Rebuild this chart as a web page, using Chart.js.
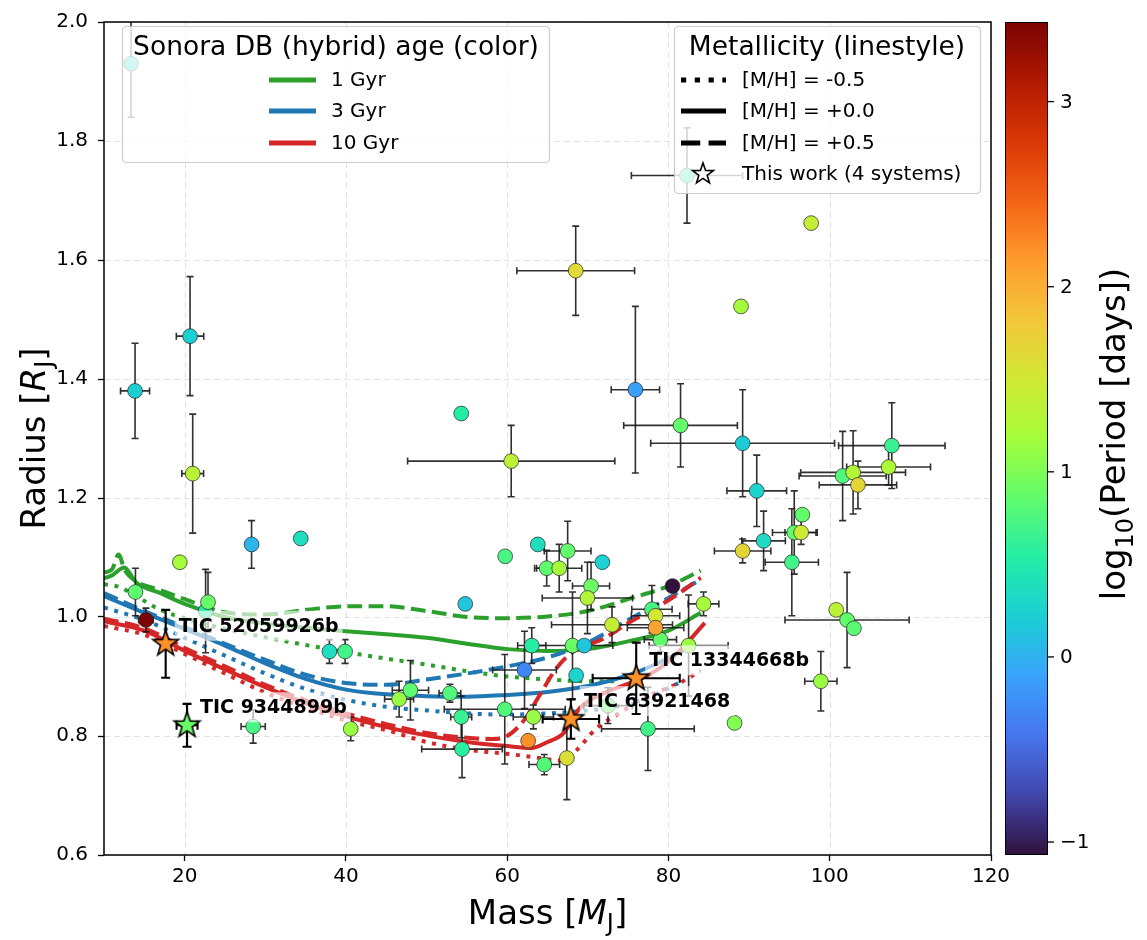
<!DOCTYPE html>
<html>
<head>
<meta charset="utf-8">
<script src="https://cdn.jsdelivr.net/npm/chart.js"></script>
<style>
    body { margin: 0; background: #fff; }
    #wrap { width: 1147px; height: 940px; }
</style>
</head>
<body>
<div id="wrap"><canvas id="mrChart" width="1147" height="940"></canvas></div>
<script>
/****************************************************** datos **************************************/

// known transiting brown dwarfs / low mass companions
var mass = [13.35, 13.85, 20.67, 21.0, 13.9, 15.2, 19.4, 22.6, 22.9, 28.3,
    34.4, 37.95, 39.9, 28.5, 40.6, 46.6, 48.0, 52.9, 54.3, 54.4,
    59.7, 63.25, 62.6, 64.6, 67.4, 77.45, 72.5, 54.3, 60.5, 54.8,
    59.75, 63.8, 67.5, 64.9, 66.45, 71.8, 70.4, 69.95, 80.5, 73.0,
    77.95, 78.4, 79.0, 78.4, 84.35, 82.5, 63.05, 68.1, 69.55, 62.15,
    68.55, 68.5, 75.9, 81.5, 82.3, 97.7, 89.0, 89.2, 90.95, 91.8,
    89.2, 96.6, 95.6, 96.45, 95.3, 101.6, 102.9, 103.5, 107.7, 107.3,
    100.8, 102.15, 103.0, 98.9, 88.2];
var massErr = [0, 1.8, 1.7, 1.35, 0, 0.9, 0, 0, 0, 0.5,
    0, 0.6, 0.6, 1.5, 0, 1.8, 2.25, 1.35, 1.3, 5.0,
    7.5, 2.5, 0, 1.9, 0, 5.75, 3.0, 0, 12.85, 0,
    0, 0, 2.9, 1.5, 2.8, 0, 2.3, 5.6, 0, 7.5,
    2.5, 3.0, 2.0, 3.5, 1.9, 4.9, 1.75, 5.0, 0, 3.95,
    0, 7.3, 3.0, 7.05, 6.9, 0, 0, 11.4, 3.7, 2.7,
    3.5, 0, 2.7, 2.0, 3.3, 5.4, 6.5, 4.8, 6.6, 5.2,
    0, 7.7, 0, 2.0, 0];
var radius = [1.93, 1.38, 1.472, 1.241, 1.042, 0.995, 1.092, 1.01, 1.025, 1.122,
    1.132, 0.942, 0.942, 0.816, 0.812, 0.862, 0.877, 0.872, 0.832, 0.778,
    0.845, 0.832, 0.792, 0.752, 0.763, 0.812, 0.851, 1.342, 1.262, 1.022,
    1.102, 1.122, 1.111, 1.082, 1.082, 1.092, 1.052, 1.032, 1.052, 0.987,
    1.013, 1.002, 0.962, 0.982, 1.022, 0.952, 0.952, 0.952, 0.952, 0.911,
    0.902, 1.582, 1.382, 1.322, 1.742, 1.662, 1.522, 1.292, 1.212, 1.128,
    1.111, 1.172, 1.142, 1.142, 1.092, 1.237, 1.243, 1.222, 1.288, 1.252,
    1.012, 0.995, 0.981, 0.892, 0.822];
var radiusErr = [0.09, 0.08, 0.10, 0.10, 0.04, 0.02, 0, 0.07, 0.05, 0.04,
    0, 0.02, 0.02, 0.028, 0.02, 0.03, 0.05, 0.015, 0.035, 0.048,
    0.092, 0.02, 0, 0.017, 0.07, 0.07, 0.03, 0, 0.06, 0,
    0, 0, 0.05, 0.03, 0.04, 0, 0.04, 0.06, 0, 0.03,
    0.04, 0.02, 0.02, 0.02, 0.02, 0.085, 0.03, 0.09, 0, 0.065,
    0, 0.075, 0.14, 0.07, 0.08, 0, 0, 0.09, 0.06, 0.05,
    0.02, 0, 0.07, 0.02, 0.09, 0.075, 0.07, 0.04, 0.072, 0.03,
    0, 0.08, 0, 0.05, 0];
var logPeriod = [0.30, 0.22, 0.22, 1.32, 0.84, 3.43, 1.18, 0.51, 0.89, 0.03,
    0.37, 0.37, 0.69, 0.72, 1.13, 1.13, 0.84, 0.78, 0.64, 0.57,
    0.78, 1.13, 2.2, 0.78, 1.59, 0.69, 0.87, 0.55, 1.36, 0.15,
    0.73, 0.37, 0.87, 0.85, 1.19, 0.24, 0.91, 1.27, -1.07, 1.41,
    0.73, 1.52, 0.87, 2.08, 1.18, 1.14, 0.55, 0.89, 0.15, -0.30,
    0.26, 1.63, -0.12, 0.87, 0.45, 1.41, 1.19, 0.19, 0.26, 0.33,
    1.68, 0.87, 0.85, 1.47, 0.69, 0.78, 1.27, 1.68, 0.64, 1.26,
    1.34, 0.86, 0.82, 1.13, 1.02];

// the four new systems
var ticNames = ['TIC 52059926b', 'TIC 9344899b', 'TIC 63921468', 'TIC 13344668b'];
var ticMass = [17.65, 20.3, 67.9, 76.0];
var ticMassErr = [0, 1.3, 3.5, 5.4];
var ticRadius = [0.955, 0.818, 0.8285, 0.897];
var ticRadiusErr = [0.057, 0.036, 0.033, 0.06];
var ticLogP = [2.2, 0.9, 2.2, 2.2];

// Sonora Diamondback hybrid isochrones, m = [M/H]-0.5, s = solar, p = +0.5
var t1m_x = [10, 12, 14, 17, 20, 25, 30, 35, 40, 45, 50, 55, 60, 65, 70, 74];
var t1m_y = [1.055, 1.05, 1.035, 1.012, 0.998, 0.98, 0.966, 0.953, 0.941, 0.93, 0.92, 0.909, 0.9, 0.895, 0.892, 0.892];
var t1s_x = [10, 11, 12.5, 14, 17, 20, 25, 30, 35, 40, 45, 50, 55, 60, 65, 70, 75, 80, 84];
var t1s_y = [1.065, 1.07, 1.083, 1.058, 1.04, 1.022, 1.0, 0.989, 0.982, 0.976, 0.971, 0.965, 0.955, 0.946, 0.943, 0.946, 0.959, 0.977, 1.007];
var t1p_x = [10, 11, 11.8, 12.6, 14, 17, 20, 25, 30, 35, 40, 45, 50, 55, 60, 65, 70, 75, 80, 84];
var t1p_y = [1.075, 1.08, 1.105, 1.078, 1.06, 1.045, 1.03, 1.008, 1.004, 1.012, 1.018, 1.018, 1.01, 1.0, 0.998, 1.001, 1.01, 1.03, 1.052, 1.078];

var t3m_x = [10, 15, 20, 25, 30, 35, 40, 45, 50, 55, 60, 65, 70, 73, 77, 82];
var t3m_y = [1.016, 0.995, 0.965, 0.935, 0.905, 0.879, 0.861, 0.849, 0.843, 0.838, 0.836, 0.838, 0.843, 0.848, 0.862, 0.894];
var t3s_x = [10, 15, 20, 25, 30, 35, 40, 45, 50, 55, 60, 65, 70, 75, 78, 82];
var t3s_y = [1.035, 1.007, 0.98, 0.952, 0.922, 0.896, 0.878, 0.87, 0.867, 0.866, 0.869, 0.874, 0.884, 0.902, 0.918, 0.945];
var t3p_x = [10, 15, 20, 25, 30, 35, 40, 45, 50, 55, 60, 65, 70, 75, 80, 84];
var t3p_y = [1.04, 1.01, 0.983, 0.955, 0.928, 0.903, 0.889, 0.886, 0.895, 0.905, 0.917, 0.932, 0.957, 0.995, 1.032, 1.063];

var t10m_x = [10, 15, 20, 25, 30, 35, 40, 45, 50, 55, 60, 63, 66.5, 68.5, 71, 73.5, 78, 81.5, 84];
var t10m_y = [0.985, 0.97, 0.938, 0.905, 0.873, 0.848, 0.826, 0.81, 0.79, 0.777, 0.77, 0.765, 0.759, 0.775, 0.812, 0.835, 0.87, 0.89, 0.91];
var t10s_x = [10, 15, 20, 25, 30, 35, 40, 45, 50, 55, 60, 63, 65, 67, 69, 72, 76, 79, 82, 84.5];
var t10s_y = [0.993, 0.977, 0.943, 0.912, 0.882, 0.855, 0.833, 0.815, 0.801, 0.79, 0.783, 0.78, 0.79, 0.805, 0.847, 0.872, 0.893, 0.915, 0.952, 0.99];
var t10p_x = [10, 15, 20, 25, 30, 35, 40, 45, 50, 55, 58, 60, 62, 64, 66, 68, 70, 72, 75, 78, 81, 84];
var t10p_y = [0.997, 0.981, 0.948, 0.917, 0.886, 0.86, 0.838, 0.82, 0.805, 0.797, 0.795, 0.80, 0.825, 0.868, 0.912, 0.94, 0.953, 0.964, 0.99, 1.012, 1.037, 1.066];

var ageLabels = ['1 Gyr', '3 Gyr', '10 Gyr'];
var metalLabels = ['[M/H] = -0.5', '[M/H] = +0.0', '[M/H] = +0.5'];

// ticks
var xTicks = [20, 40, 60, 80, 100, 120];
var yTicks = [0.6, 0.8, 1.0, 1.2, 1.4, 1.6, 1.8, 2.0];
var cbTicks = [-1, 0, 1, 2, 3];

/****************************************************** estilos **************************************/

var FONT = "'DejaVu Sans', sans-serif";
var GREEN = '#2ca02c', BLUE = '#1f77b4', RED = '#d62728';
var LW = 4;
function dashFor(style, lw) {
    if (style === 'dotted') return [lw, lw * 1.65];
    if (style === 'dashed') return [lw * 3.7, lw * 1.6];
    return [];
}

Chart.defaults.font.family = FONT;
Chart.defaults.color = '#000';

// turbo colormap, 15 evenly spaced stops, linear in between
var TURBO = ['#30123b', '#4145ab', '#4675ed', '#39a2fc', '#1bcfd4', '#24eca6', '#61fc6c', '#a4fc3b',
    '#d1e834', '#f3c63a', '#fe9b2d', '#f36315', '#d93806', '#b11901', '#7a0402'];
function hexRgb(h) {
    return [parseInt(h.substr(1, 2), 16), parseInt(h.substr(3, 2), 16), parseInt(h.substr(5, 2), 16)];
}
function turbo(t) {
    t = Math.min(1, Math.max(0, t));
    var f = t * (TURBO.length - 1);
    var i = Math.min(TURBO.length - 2, Math.floor(f));
    var u = f - i;
    var a = hexRgb(TURBO[i]), b = hexRgb(TURBO[i + 1]);
    return 'rgb(' + Math.round(a[0] + (b[0] - a[0]) * u) + ',' +
        Math.round(a[1] + (b[1] - a[1]) * u) + ',' +
        Math.round(a[2] + (b[2] - a[2]) * u) + ')';
}

var allLogP = logPeriod.concat(ticLogP);
var cMin = Math.min.apply(null, allLogP);
var cMax = Math.max.apply(null, allLogP);
function periodColor(v) {
    return turbo((v - cMin) / (cMax - cMin));
}

// five pointed star as an image so chart.js can use it as pointStyle
function starMarker(fill, r, lw) {
    var size = Math.ceil(2 * r + 2 * lw + 4);
    var cv = document.createElement('canvas');
    cv.width = size;
    cv.height = size;
    var c = cv.getContext('2d');
    starPath(c, size / 2, size / 2, r);
    c.fillStyle = fill;
    c.fill();
    c.lineWidth = lw;
    c.strokeStyle = '#000';
    c.lineJoin = 'miter';
    c.stroke();
    return cv;
}
function starPath(c, cx, cy, r) {
    c.beginPath();
    for (var i = 0; i < 10; i++) {
        var rr = (i % 2 === 0) ? r : r * 0.4;
        var a = -Math.PI / 2 + i * Math.PI / 5;
        c.lineTo(cx + rr * Math.cos(a), cy + rr * Math.sin(a));
    }
    c.closePath();
}

function pairs(xs, ys) {
    return xs.map(function (x, i) { return { x: x, y: ys[i] }; });
}

/****************************************************** datasets **************************************/

var tracks = [
    { x: t1m_x, y: t1m_y, color: GREEN, style: 'dotted', order: 36 },
    { x: t1s_x, y: t1s_y, color: GREEN, style: 'solid', order: 35 },
    { x: t1p_x, y: t1p_y, color: GREEN, style: 'dashed', order: 34 },
    { x: t3m_x, y: t3m_y, color: BLUE, style: 'dotted', order: 26 },
    { x: t3s_x, y: t3s_y, color: BLUE, style: 'solid', order: 25 },
    { x: t3p_x, y: t3p_y, color: BLUE, style: 'dashed', order: 24 },
    { x: t10m_x, y: t10m_y, color: RED, style: 'dotted', order: 16 },
    { x: t10s_x, y: t10s_y, color: RED, style: 'solid', order: 15 },
    { x: t10p_x, y: t10p_y, color: RED, style: 'dashed', order: 14 }
];

var datasets = tracks.map(function (t) {
    return {
        data: pairs(t.x, t.y),
        showLine: true,
        pointRadius: 0,
        borderColor: t.color,
        borderWidth: LW,
        borderDash: dashFor(t.style, LW),
        borderCapStyle: 'butt',
        cubicInterpolationMode: 'monotone',
        fill: false,
        order: t.order
    };
});

var POINTS = datasets.length;
datasets.push({
    data: pairs(mass, radius),
    pointRadius: 7.4,
    pointBackgroundColor: logPeriod.map(periodColor),
    pointBorderColor: 'rgba(40,40,40,0.9)',
    pointBorderWidth: 0.8,
    order: 2
});

var STARS = datasets.length;
datasets.push({
    data: pairs(ticMass, ticRadius),
    pointStyle: ticLogP.map(function (v) { return starMarker(periodColor(v), 13.5, 1.6); }),
    pointRadius: 13,
    order: 1
});

/****************************************************** dibujo extra **************************************/

function drawErrors(chart, xs, xe, ys, ye, color, lw, cap) {
    var ctx = chart.ctx, sx = chart.scales.x, sy = chart.scales.y, a = chart.chartArea;
    ctx.save();
    ctx.beginPath();
    ctx.rect(a.left, a.top, a.right - a.left, a.bottom - a.top);
    ctx.clip();
    ctx.strokeStyle = color;
    ctx.lineWidth = lw;
    for (var i = 0; i < xs.length; i++) {
        var px = sx.getPixelForValue(xs[i]);
        var py = sy.getPixelForValue(ys[i]);
        ctx.beginPath();
        if (xe[i] > 0) {
            var x0 = sx.getPixelForValue(xs[i] - xe[i]);
            var x1 = sx.getPixelForValue(xs[i] + xe[i]);
            ctx.moveTo(x0, py); ctx.lineTo(x1, py);
            ctx.moveTo(x0, py - cap); ctx.lineTo(x0, py + cap);
            ctx.moveTo(x1, py - cap); ctx.lineTo(x1, py + cap);
        }
        if (ye[i] > 0) {
            var y0 = sy.getPixelForValue(ys[i] - ye[i]);
            var y1 = sy.getPixelForValue(ys[i] + ye[i]);
            ctx.moveTo(px, y0); ctx.lineTo(px, y1);
            ctx.moveTo(px - cap, y0); ctx.lineTo(px + cap, y0);
            ctx.moveTo(px - cap, y1); ctx.lineTo(px + cap, y1);
        }
        ctx.stroke();
    }
    ctx.restore();
}

function drawTicLabels(chart) {
    var ctx = chart.ctx, sx = chart.scales.x, sy = chart.scales.y;
    ctx.save();
    ctx.font = 'bold 19px ' + FONT;
    ctx.textBaseline = 'middle';
    ctx.textAlign = 'left';
    for (var i = 0; i < ticNames.length; i++) {
        var x = sx.getPixelForValue(ticMass[i]) + 13;
        var y = sy.getPixelForValue(ticRadius[i]) - 18;
        var w = ctx.measureText(ticNames[i]).width;
        ctx.fillStyle = 'rgba(255,255,255,0.65)';
        ctx.fillRect(x - 4, y - 15, w + 8, 30);
        ctx.fillStyle = '#000';
        ctx.fillText(ticNames[i], x, y + 1);
    }
    ctx.restore();
}

// texto con subindices / cursiva, centrado en (cx, baseline cy)
function richText(ctx, parts, cx, cy, rot) {
    ctx.save();
    ctx.translate(cx, cy);
    ctx.rotate(rot);
    ctx.textBaseline = 'alphabetic';
    ctx.textAlign = 'left';
    ctx.fillStyle = '#000';
    var total = 0;
    parts.forEach(function (p) {
        ctx.font = (p.style || '') + ' ' + p.size + 'px ' + FONT;
        p.w = ctx.measureText(p.text).width;
        total += p.w;
    });
    var x = -total / 2;
    parts.forEach(function (p) {
        ctx.font = (p.style || '') + ' ' + p.size + 'px ' + FONT;
        ctx.fillText(p.text, x, p.dy || 0);
        x += p.w;
    });
    ctx.restore();
}

function legendBox(ctx, x0, y0, x1, y1) {
    ctx.save();
    ctx.beginPath();
    ctx.roundRect(x0, y0, x1 - x0, y1 - y0, 4);
    ctx.fillStyle = 'rgba(255,255,255,0.8)';
    ctx.fill();
    ctx.lineWidth = 1.2;
    ctx.strokeStyle = 'rgba(200,200,200,0.9)';
    ctx.stroke();
    ctx.restore();
}

function handleLine(ctx, x0, x1, y, color, style) {
    ctx.save();
    ctx.strokeStyle = color;
    ctx.lineWidth = 5.2;
    ctx.lineCap = 'butt';
    ctx.setLineDash(dashFor(style, 5.2));
    ctx.beginPath();
    ctx.moveTo(x0, y);
    ctx.lineTo(x1, y);
    ctx.stroke();
    ctx.restore();
}

function drawLegends(ctx) {
    var rows = [80, 111, 143];
    var ageColors = [GREEN, BLUE, RED];
    var styles = ['dotted', 'solid', 'dashed'];

    legendBox(ctx, 122.5, 26.5, 549.5, 162.5);
    ctx.save();
    ctx.fillStyle = '#000';
    ctx.textBaseline = 'middle';
    ctx.textAlign = 'center';
    ctx.font = '26.5px ' + FONT;
    ctx.fillText('Sonora DB (hybrid) age (color)', 336, 48);
    ctx.textAlign = 'left';
    ctx.font = '20px ' + FONT;
    for (var i = 0; i < 3; i++) {
        handleLine(ctx, 269, 316, rows[i], ageColors[i], 'solid');
        ctx.fillText(ageLabels[i], 331, rows[i] + 1);
    }
    ctx.restore();

    legendBox(ctx, 674.5, 26.5, 980.5, 193.5);
    ctx.save();
    ctx.fillStyle = '#000';
    ctx.textBaseline = 'middle';
    ctx.textAlign = 'center';
    ctx.font = '26.5px ' + FONT;
    ctx.fillText('Metallicity (linestyle)', 827, 48);
    ctx.textAlign = 'left';
    ctx.font = '20px ' + FONT;
    for (var j = 0; j < 3; j++) {
        handleLine(ctx, 681, 726, rows[j], '#000', styles[j]);
        ctx.fillText(metalLabels[j], 742, rows[j] + 1);
    }
    starPath(ctx, 703, 174, 11);
    ctx.fillStyle = '#fff';
    ctx.fill();
    ctx.lineWidth = 1.6;
    ctx.strokeStyle = '#000';
    ctx.stroke();
    ctx.fillStyle = '#000';
    ctx.fillText('This work (4 systems)', 742, 175);
    ctx.restore();
}

function drawColorbar(ctx, top, bottom) {
    var x0 = 1005, x1 = 1048;
    var grad = ctx.createLinearGradient(0, bottom, 0, top);
    for (var i = 0; i <= 64; i++) grad.addColorStop(i / 64, turbo(i / 64));
    ctx.save();
    ctx.fillStyle = grad;
    ctx.fillRect(x0, top, x1 - x0, bottom - top);
    ctx.strokeStyle = '#000';
    ctx.lineWidth = 1;
    ctx.strokeRect(x0 + 0.5, top + 0.5, x1 - x0 - 1, bottom - top - 1);
    ctx.font = '20px ' + FONT;
    ctx.textBaseline = 'middle';
    ctx.textAlign = 'left';
    ctx.fillStyle = '#000';
    ctx.lineWidth = 1.3;
    cbTicks.forEach(function (v) {
        var y = bottom - (v - cMin) / (cMax - cMin) * (bottom - top);
        ctx.beginPath();
        ctx.moveTo(x1, y);
        ctx.lineTo(x1 + 6, y);
        ctx.stroke();
        ctx.fillText(v < 0 ? '\u2212' + Math.abs(v) : String(v), x1 + 12, y + 1);
    });
    ctx.restore();
    richText(ctx, [
        { text: 'log', size: 34 },
        { text: '10', size: 24, dy: 8 },
        { text: '(Period [days])', size: 34 }
    ], 1125, 434, -Math.PI / 2);
}

var extras = {
    id: 'extras',
    beforeDatasetsDraw: function (chart) {
        // dashed grid
        var ctx = chart.ctx, a = chart.chartArea;
        ctx.save();
        ctx.strokeStyle = 'rgba(190,190,190,0.45)';
        ctx.lineWidth = 1;
        ctx.setLineDash([6, 4]);
        xTicks.forEach(function (v) {
            var x = Math.round(chart.scales.x.getPixelForValue(v)) + 0.5;
            ctx.beginPath(); ctx.moveTo(x, a.top); ctx.lineTo(x, a.bottom); ctx.stroke();
        });
        yTicks.forEach(function (v) {
            var y = Math.round(chart.scales.y.getPixelForValue(v)) + 0.5;
            ctx.beginPath(); ctx.moveTo(a.left, y); ctx.lineTo(a.right, y); ctx.stroke();
        });
        ctx.restore();
    },
    beforeDatasetDraw: function (chart, args) {
        if (args.index === POINTS) {
            drawErrors(chart, mass, massErr, radius, radiusErr, 'rgba(25,25,25,0.9)', 1.6, 3.5);
        }
        if (args.index === STARS) {
            drawErrors(chart, ticMass, ticMassErr, ticRadius, ticRadiusErr, '#000', 2.1, 4.5);
        }
    },
    afterDatasetDraw: function (chart, args) {
        if (args.index === POINTS) drawTicLabels(chart);
    },
    afterDraw: function (chart) {
        var ctx = chart.ctx, a = chart.chartArea;
        ctx.save();
        ctx.strokeStyle = '#000';
        ctx.lineWidth = 1.5;
        ctx.strokeRect(a.left, a.top, a.right - a.left, a.bottom - a.top);
        ctx.restore();

        drawLegends(ctx);
        drawColorbar(ctx, a.top, a.bottom);

        richText(ctx, [
            { text: 'Mass [', size: 34 },
            { text: 'M', size: 34, style: 'italic' },
            { text: 'J', size: 24, dy: 7 },
            { text: ']', size: 34 }
        ], (a.left + a.right) / 2, 924, 0);
        richText(ctx, [
            { text: 'Radius [', size: 34 },
            { text: 'R', size: 34, style: 'italic' },
            { text: 'J', size: 24, dy: 7 },
            { text: ']', size: 34 }
        ], 45, (a.top + a.bottom) / 2, -Math.PI / 2);
    }
};

/****************************************************** grafica **************************************/

function massRadiusCanvas() {
    var ctx = document.getElementById('mrChart').getContext('2d');
    var chart = new Chart(ctx, {
        type: 'scatter',
        data: { datasets: datasets },
        options: {
            responsive: false,
            animation: false,
            devicePixelRatio: 1,
            layout: { padding: { top: 17, right: 156, left: 0, bottom: 0 } },
            plugins: {
                legend: { display: false },
                tooltip: { enabled: false }
            },
            scales: {
                x: {
                    type: 'linear',
                    min: 10,
                    max: 120,
                    afterFit: function (s) { s.height = 85; },
                    afterBuildTicks: function (s) { s.ticks = xTicks.map(function (v) { return { value: v }; }); },
                    grid: { drawOnChartArea: false, drawTicks: true, tickLength: 6, tickWidth: 1.3, tickColor: '#000' },
                    border: { display: false },
                    ticks: { font: { size: 20 }, color: '#000', padding: 4, maxRotation: 0, autoSkip: false }
                },
                y: {
                    type: 'linear',
                    min: 0.6,
                    max: 2.0,
                    afterFit: function (s) { s.width = 104; },
                    afterBuildTicks: function (s) { s.ticks = yTicks.map(function (v) { return { value: v }; }); },
                    grid: { drawOnChartArea: false, drawTicks: true, tickLength: 6, tickWidth: 1.3, tickColor: '#000' },
                    border: { display: false },
                    ticks: {
                        font: { size: 20 }, color: '#000', padding: 10, autoSkip: false,
                        callback: function (v) { return Number(v).toFixed(1); }
                    }
                }
            }
        },
        plugins: [extras]
    });
}

massRadiusCanvas();
</script>
</body>
</html>
